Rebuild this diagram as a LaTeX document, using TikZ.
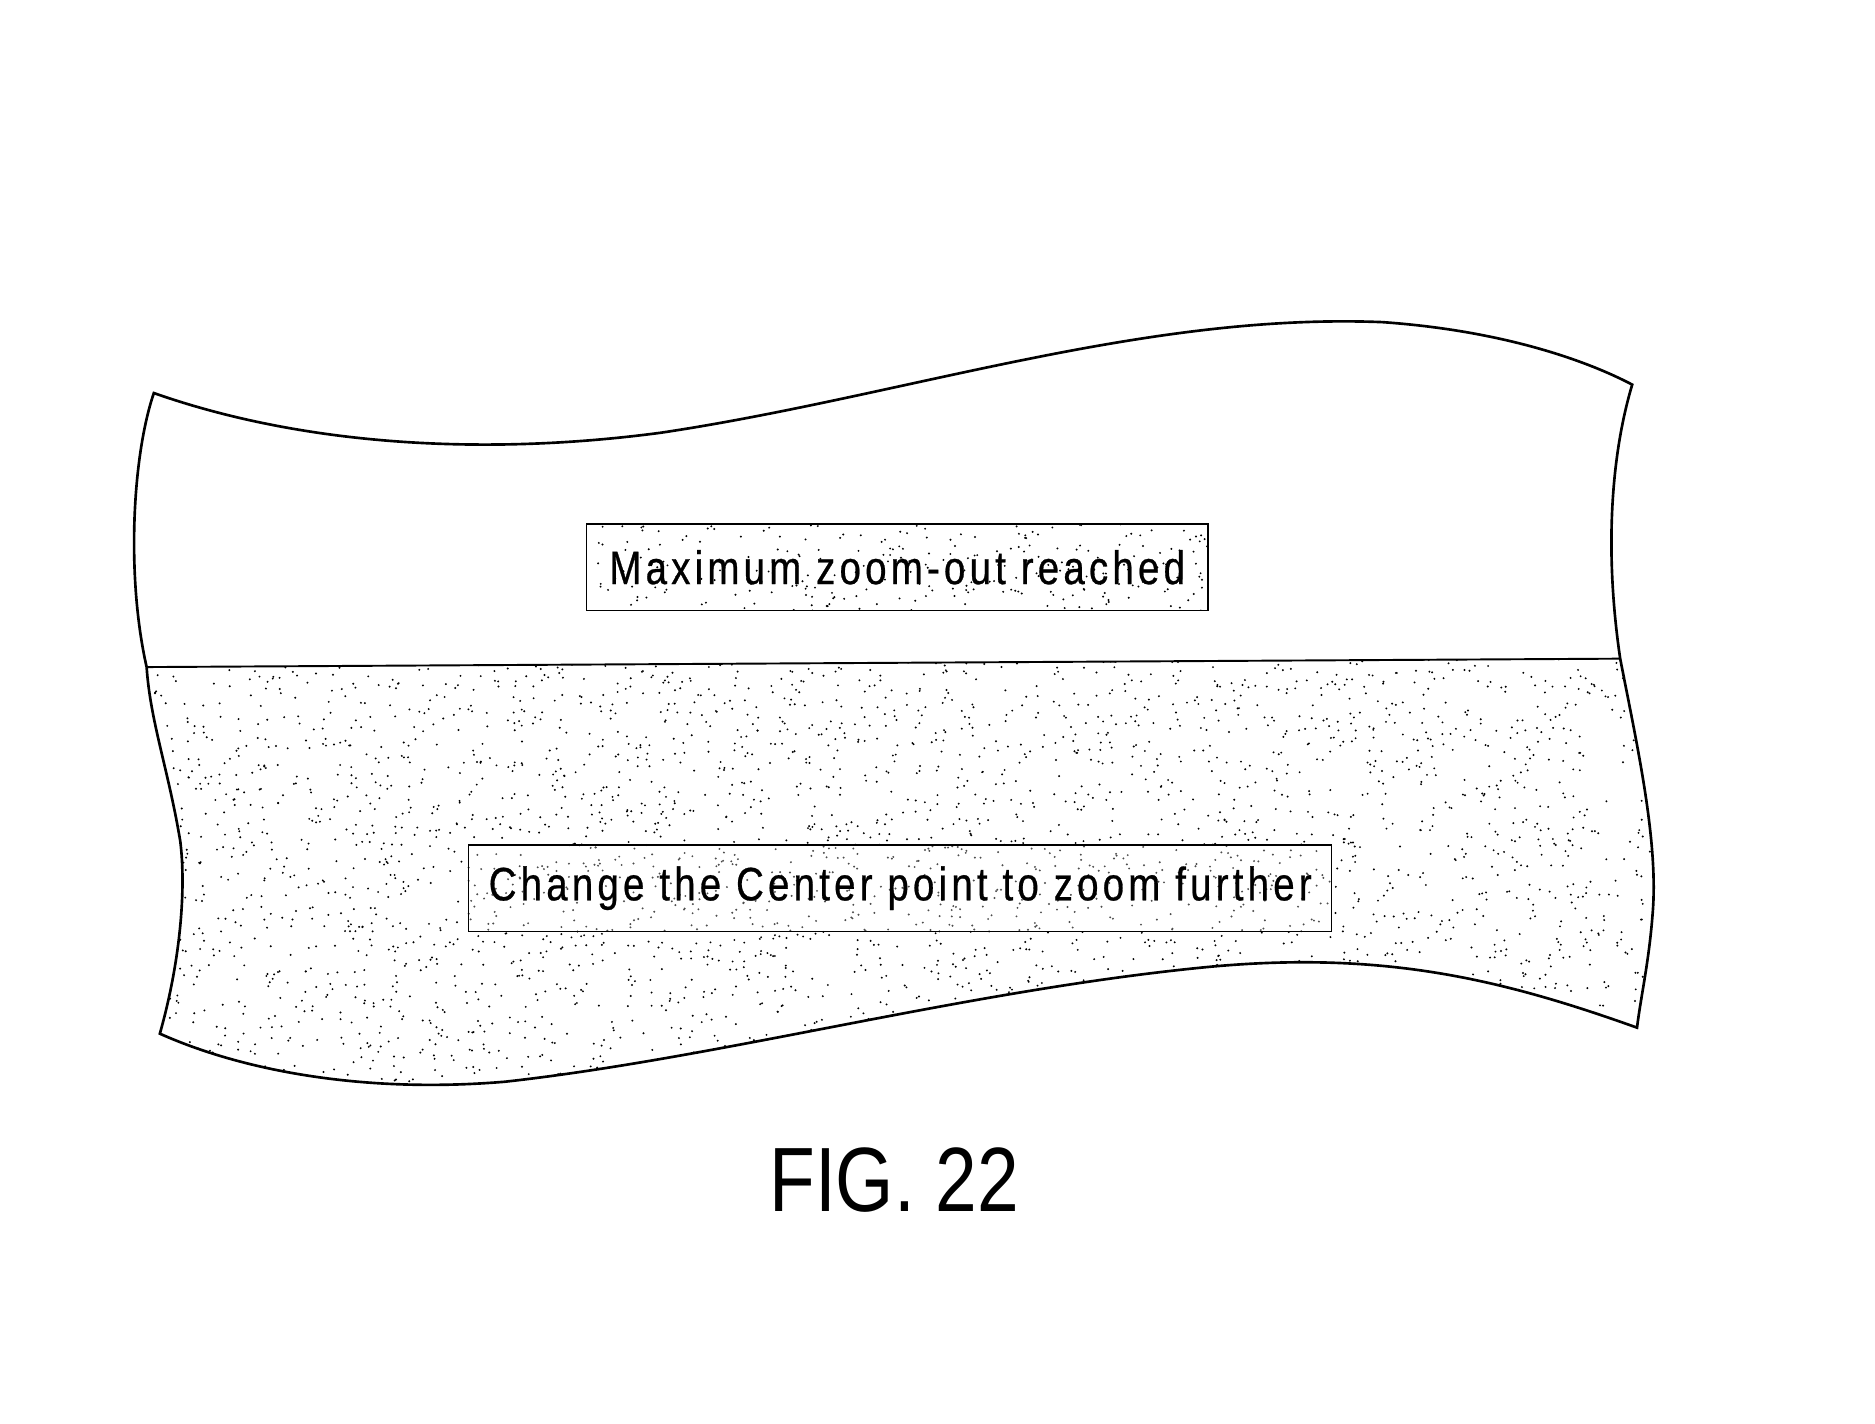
\documentclass[tikz,border=0pt]{standalone}
\usepackage{fontspec}
\setmainfont{Liberation Sans}
\begin{document}
\begin{tikzpicture}[x=0.5pt,y=-0.5pt,
  outline/.style={line width=1.1pt,black},
  msgbox/.style={draw,line width=0.6pt,minimum width=#1,minimum height=36pt,inner sep=0pt},
  msgtext/.style={font=\fontsize{19.5}{22}\selectfont\addfontfeatures{FakeStretch=0.82,LetterSpace=9,FakeBold=0.6}}]
\useasboundingbox (0,0) rectangle (1560,1184);
\pgfmathsetseed{7}
% lower region stipple
\begin{scope}
\clip (122,555) -- (1348,548) .. controls (1362,620) and (1380,700) .. (1375,760) .. controls (1372,800) and (1365,830) .. (1362,855)
  .. controls (1250,815) and (1150,790) .. (1000,805) .. controls (800,825) and (600,880) .. (420,900) .. controls (300,910) and (200,890) .. (133,860)
  .. controls (150,800) and (155,740) .. (150,700) .. controls (140,640) and (125,600) .. (122,555) -- cycle;
\foreach \i in {1,...,3500}{
  \pgfmathsetmacro\px{120+rnd*1260}\pgfmathsetmacro\py{545+rnd*365}
  \fill (\px,\py) circle (0.9);
}
\end{scope}
% top box stipple
\begin{scope}
\clip (488,436) rectangle (1005,508);
\foreach \i in {1,...,260}{
  \pgfmathsetmacro\px{488+rnd*517}\pgfmathsetmacro\py{436+rnd*72}
  \fill (\px,\py) circle (0.9);
}
\end{scope}
% outline
\draw[outline] (128,327) .. controls (250,370) and (400,380) .. (550,360) .. controls (750,330) and (950,260) .. (1150,268) .. controls (1250,275) and (1320,300) .. (1358,320)
  .. controls (1340,380) and (1335,460) .. (1348,548) .. controls (1362,620) and (1380,700) .. (1375,760) .. controls (1372,800) and (1365,830) .. (1362,855)
  .. controls (1250,815) and (1150,790) .. (1000,805) .. controls (800,825) and (600,880) .. (420,900) .. controls (300,910) and (200,890) .. (133,860)
  .. controls (150,800) and (155,740) .. (150,700) .. controls (140,640) and (125,600) .. (122,555) .. controls (105,480) and (110,380) .. (128,327) -- cycle;
\coordinate (dl) at (122,555); \coordinate (dr) at (1348,548);
\draw[line width=0.8pt] (dl) -- (dr);
\node[msgbox=258.5pt,msgtext] (top) at (746.5,472) {Maximum zoom-out reached};
\node[msgbox=359pt,fill=white,fill opacity=0.3,text opacity=1,msgtext] (bot) at (749,739) {Change the Center point to zoom further};
\node[font=\fontsize{38}{44}\selectfont\addfontfeatures{FakeStretch=0.82}] (fig) at (744,982) {FIG. 22};
\end{tikzpicture}
\end{document}
